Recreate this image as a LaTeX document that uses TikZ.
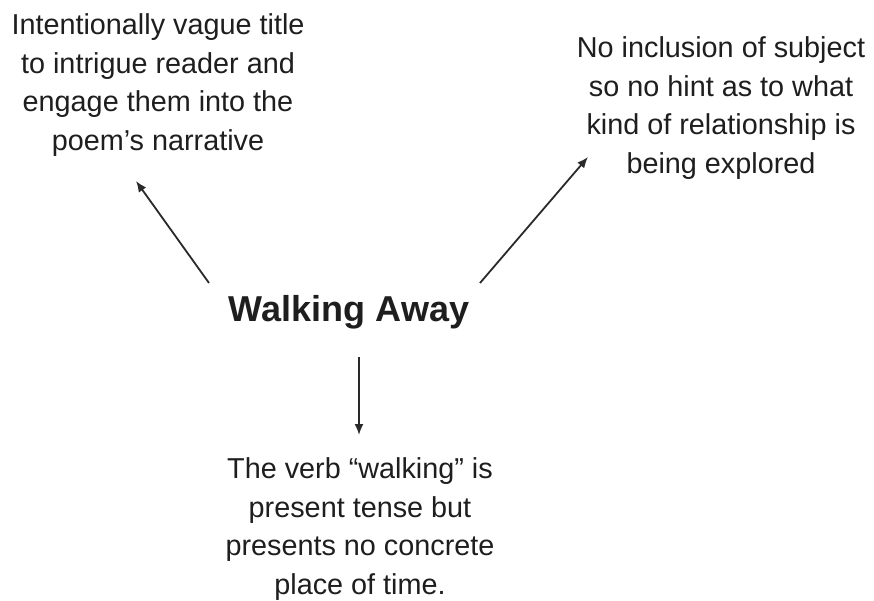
\documentclass[tikz,border=0pt]{standalone}
\usepackage{fontspec}
\setmainfont{Liberation Sans}
\usetikzlibrary{arrows.meta}
\definecolor{txt}{HTML}{1E1E1E}
\definecolor{ln}{HTML}{2A2A2A}
\tikzset{
  note/.style={align=center, inner sep=0pt, text=txt, font=\fontsize{28.8}{38.5}\selectfont},
  ttl/.style={inner sep=0pt, text=txt, font=\bfseries\fontsize{36}{43}\selectfont},
  arr/.style={draw=ln, line width=1.8pt, -{Latex[length=11pt,width=9pt]}}
}
\begin{document}
\begin{tikzpicture}[x=1pt,y=-1pt]
\path[use as bounding box, fill=white] (0,0) rectangle (874,601);
\node[ttl] (title) at (349,312) {Walking Away};
\node[note] (tl) at (158,85) {Intentionally vague title\\to intrigue reader and\\engage them into the\\poem’s narrative};
\node[note] (tr) at (721,108) {No inclusion of subject\\so no hint as to what\\kind of relationship is\\being explored};
\node[note] (bt) at (360,529) {The verb “walking” is\\present tense but\\presents no concrete\\place of time.};
\coordinate (a1s) at (209,283);
\coordinate (a1e) at (136,181);
\coordinate (a2s) at (480,283);
\coordinate (a2e) at (588,157);
\coordinate (a3s) at (359,357);
\coordinate (a3e) at (359,435);
\draw[arr] (a1s) -- (a1e);
\draw[arr] (a2s) -- (a2e);
\draw[arr] (a3s) -- (a3e);
\end{tikzpicture}
\end{document}
